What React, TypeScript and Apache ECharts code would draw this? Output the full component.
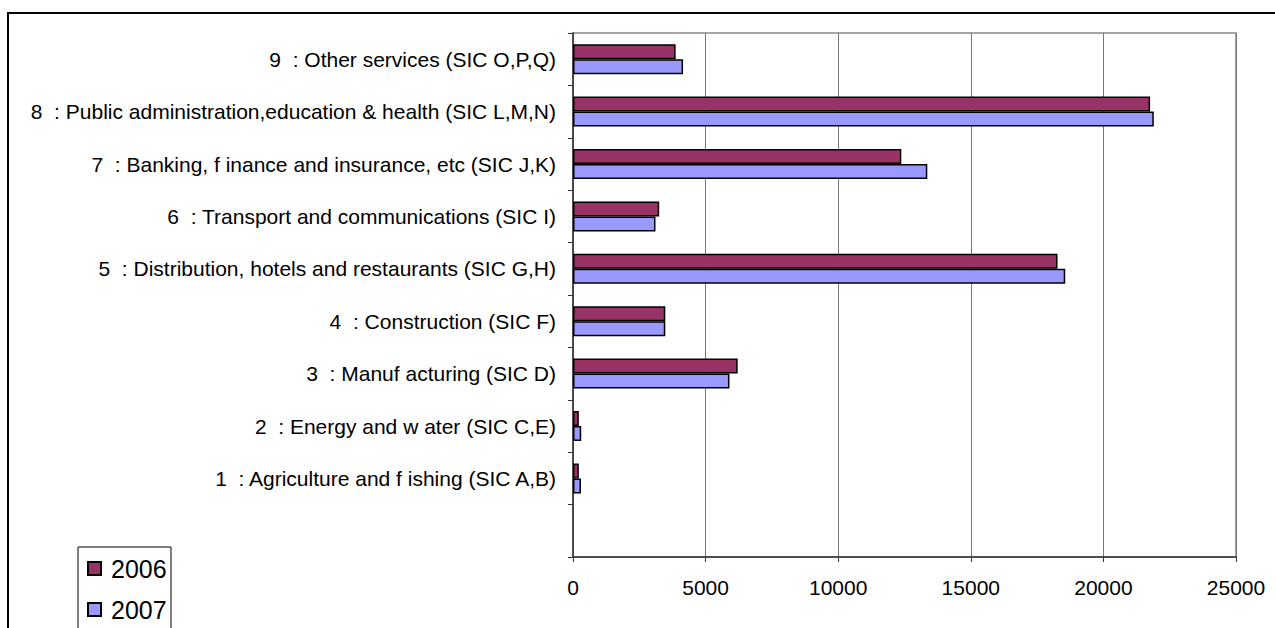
import React, { useEffect, useRef } from "react";
import * as echarts from "echarts";

const categories = [
  "",
  "1  : Agriculture and f ishing (SIC A,B)",
  "2  : Energy and w ater (SIC C,E)",
  "3  : Manuf acturing (SIC D)",
  "4  : Construction (SIC F)",
  "5  : Distribution, hotels and restaurants (SIC G,H)",
  "6  : Transport and communications (SIC I)",
  "7  : Banking, f inance and insurance, etc (SIC J,K)",
  "8  : Public administration,education & health (SIC L,M,N)",
  "9  : Other services (SIC O,P,Q)",
];

const values2006 = [null, 220, 220, 6210, 3480, 18270, 3250, 12380, 21760, 3870];
const values2007 = [null, 300, 310, 5900, 3480, 18560, 3110, 13360, 21900, 4150];

const xTicks = { min: 0, max: 25000, interval: 5000 };

const FONT = "'Liberation Sans', Arial, sans-serif";

export default function App() {
  const ref = useRef<HTMLDivElement>(null);
  useEffect(() => {
    if (!ref.current) return;
    const chart = echarts.init(ref.current, null, { renderer: "svg" });
    chart.setOption({
      animation: false,
      backgroundColor: "#fff",
      textStyle: { fontFamily: FONT },
      graphic: [
        {
          type: "rect",
          shape: { x: 8, y: 13, width: 1300, height: 700 },
          style: { fill: "none", stroke: "#000", lineWidth: 2 },
          silent: true,
        },
        {
          type: "rect",
          shape: { x: 78, y: 547, width: 93, height: 120 },
          style: { fill: "none", stroke: "#000", lineWidth: 1 },
          silent: true,
        },
      ],
      grid: {
        left: 573,
        right: 1275 - 1236,
        top: 33,
        bottom: 628 - 557,
        show: true,
        borderColor: "#888",
        borderWidth: 1.5,
        containLabel: false,
      },
      legend: {
        orient: "vertical",
        left: 78,
        top: 547,
        data: ["2006", "2007"],
        icon: "rect",
        itemWidth: 13,
        itemHeight: 13,
        itemGap: 16,
        padding: [9, 7, 0, 9],
        textStyle: { fontFamily: FONT, fontSize: 25, color: "#000", padding: [0, 0, 0, 5] },
      },
      xAxis: {
        type: "value",
        min: xTicks.min,
        max: xTicks.max,
        interval: xTicks.interval,
        axisLine: { show: true, lineStyle: { color: "#333", width: 1.5 } },
        axisTick: { show: true, length: 5, lineStyle: { color: "#333" } },
        axisLabel: {
          fontFamily: FONT,
          fontSize: 21,
          color: "#000",
          margin: 20,
          formatter: (v: number) => String(v),
        },
        splitLine: { show: true, lineStyle: { color: "#777", width: 1 } },
      },
      yAxis: {
        type: "category",
        data: categories,
        boundaryGap: true,
        axisLine: { show: true, lineStyle: { color: "#333", width: 1.5 } },
        axisTick: { show: true, length: 5, lineStyle: { color: "#333" } },
        axisLabel: { fontFamily: FONT, fontSize: 21, color: "#000", margin: 17, interval: 0 },
        splitLine: { show: false },
      },
      series: [
        {
          name: "2006",
          type: "bar",
          data: values2006,
          barWidth: 15,
          barGap: "0%",
          itemStyle: { color: "#993366", borderColor: "#000", borderWidth: 1.5 },
        },
        {
          name: "2007",
          type: "bar",
          data: values2007,
          barWidth: 15,
          barGap: "0%",
          itemStyle: { color: "#9999FF", borderColor: "#000", borderWidth: 1.5 },
        },
      ],
    });
    return () => chart.dispose();
  }, []);
  return (
    <div
      ref={ref}
      style={{ position: "fixed", left: 0, top: 0, width: 1275, height: 628 }}
    />
  );
}
